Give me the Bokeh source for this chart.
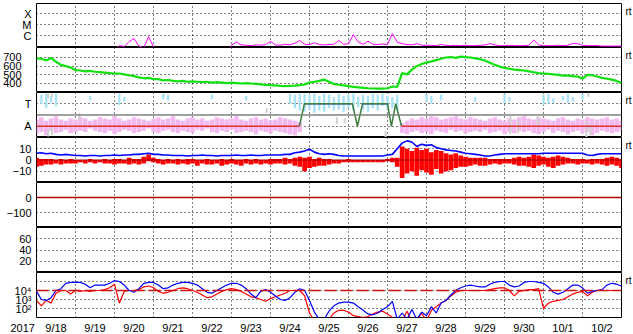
import numpy as np
from bokeh.plotting import figure
from bokeh.layouts import column
from bokeh.models import Range1d, FixedTicker, Span, LinearAxis, LogAxis
from bokeh.embed import file_html
from bokeh.resources import INLINE

FONT = "Liberation Sans"
nan = float("nan")

# ---------------- data ----------------
hours = list(range(0, 361, 3))          # 3-hourly samples from 2017-09-18 00:00
t = [h / 24 for h in hours]             # days

day_labels = ["9/18", "9/19", "9/20", "9/21", "9/22", "9/23", "9/24", "9/25",
              "9/26", "9/27", "9/28", "9/29", "9/30", "10/1", "10/2"]
year_label = "2017"

# X-ray flux (W/m2)
xray = ([5e-8] * 17 +
        [1.2e-7, 1.0e-7, 2.8e-7, 5.3e-7, 1.1e-7, 8e-8, 8e-7, 9e-8] +
        [5e-8] * 15 +
        [1.3e-7, 2.5e-7, 1.4e-7, 1.3e-7, 1.2e-7, 1.4e-7, 1.3e-7, 1.5e-7, 3e-7, 1.4e-7,
         1.3e-7, 1.6e-7, 1.4e-7, 2e-7, 3.5e-7, 1.6e-7, 1.5e-7, 2.2e-7, 1.5e-7, 1.4e-7,
         1.5e-7, 1.6e-7, 3.5e-7, 1.6e-7, 1.8e-7, 1.2e-6, 2.5e-7, 1.6e-7, 3e-7, 1.6e-7,
         1.5e-7, 1.7e-7, 1.5e-7, 1.5e-6, 2.5e-7, 1.8e-7, 1.5e-7, 1.4e-7, 1.8e-7, 1.3e-7,
         1.3e-7, 1.3e-7, 1.2e-7, 1.5e-7, 1.3e-7, 1.2e-7, 1.3e-7, 1.2e-7, 1.3e-7, 1.2e-7,
         1.2e-7, 1.3e-7, 1.4e-7, 1.8e-7, 1.4e-7, 1.2e-7, 1.2e-7, 1.3e-7, 1.2e-7, 1.2e-7,
         1.2e-7, 1.3e-7, 4e-7, 1.4e-7, 1.2e-7, 1.2e-7, 1.2e-7, 1.3e-7, 1.2e-7, 1.3e-7,
         1.9e-7, 1.8e-7, 1.3e-7, 1.2e-7, 1.2e-7, 1.2e-7, 1.1e-7, 1.1e-7, 1.1e-7, 1.1e-7,
         1.1e-7])

# solar wind speed (km/s)
speed = [690, 685, 665, 695, 650, 615, 600, 585, 555, 550,
         540, 545, 535, 530, 525, 520, 515, 515, 505, 495,
         485, 470, 460, 465, 450, 450, 435, 440, 430, 425,
         430, 420, 425, 420, 415, 420, 410, 415, 410, 405,
         410, 405, 400, 405, 400, 395, 390, 385, 380, 378,
         372, 370, 372, 375, 380, 390, 410, 420, 430, 445,
         420, 395, 385, 378, 370, 360, 355, 350, 345, 342,
         340, 340, 345, 365, 360, 520, 505, 560, 600, 625,
         640, 655, 670, 685, 700, 705, 695, 710, 705, 700,
         690, 680, 665, 640, 615, 595, 580, 570, 560, 555,
         550, 540, 530, 520, 515, 510, 505, 500, 490, 490,
         485, 480, 455, 500, 495, 480, 465, 455, 445, 430,
         405]

# panel 3 : A / T classes
pink_hi = [1.6, 1.8, 1.5, 1.7, 1.9, 1.6, 1.5, 1.7, 1.6, 1.8,
           1.7, 1.5, 1.6, 1.8, 1.7, 1.6, 1.9, 1.7, 1.5, 1.6,
           1.8, 1.7, 1.6, 1.5, 1.7, 1.8, 1.6, 1.7, 1.9, 1.6,
           1.5, 1.7, 1.8, 1.6, 1.7, 1.5, 1.6, 1.8, 1.7, 1.6,
           1.7, 1.9, 1.6, 1.5, 1.7, 1.8, 1.6, 1.7, 1.5, 1.6,
           1.8, 1.7, 1.6, 1.5, 1.4] + [nan] * 20 + \
          [1.3, 1.5, 1.7, 1.6, 1.8,
           1.7, 1.9, 1.8, 1.6, 1.7, 1.8, 1.9, 1.7, 1.6, 1.8,
           1.7, 1.6, 1.5, 1.7, 1.8, 1.6, 1.5, 1.7, 1.6, 1.8,
           1.9, 1.7, 1.6, 1.8, 1.7, 1.6, 1.5, 1.7, 1.8, 1.6,
           1.5, 1.7, 1.6, 1.8, 1.7, 1.6, 1.7, 1.8, 1.6, 1.7, 1.5]
pink_lo = [0.3, 0.5, 0.2, 0.6, 0.4, 0.5, 0.7, 0.4, 0.5, 0.6,
           0.5, 0.8, 0.6, 0.5, 0.4, 0.6, 0.3, 0.5, 0.7, 0.6,
           0.4, 0.5, 0.6, 0.8, 0.5, 0.4, 0.6, 0.7, 0.5, 0.4,
           0.6, 0.5, 0.4, 0.7, 0.6, 0.8, 0.5, 0.4, 0.6, 0.5,
           0.7, 0.4, 0.5, 0.6, 0.5, 0.3, 0.6, 0.5, 0.4, 0.6,
           0.5, 0.4, 0.3, 0.2, 0.5] + [nan] * 20 + \
          [0.4, 0.3, 0.5, 0.6, 0.4,
           0.5, 0.3, 0.6, 0.5, 0.4, 0.7, 0.5, 0.6, 0.4, 0.5,
           0.6, 0.5, 0.7, 0.4, 0.5, 0.6, 0.3, 0.5, 0.4, 0.6,
           0.5, 0.6, 0.4, 0.3, 0.5, 0.7, 0.4, 0.6, 0.5, 0.3,
           0.5, 0.6, 0.4, 0.5, 0.2, 0.4, 0.6, 0.5, 0.4, 0.5, 0.6]

cyan_hi = [nan, 3.8, 3.9, 3.7, 3.9, nan, nan, nan, nan, nan,
           nan, 3.7, nan, nan, nan, nan, nan, 3.9, 3.6, nan,
           nan, nan, nan, nan, nan, nan, 3.9, 3.8, nan, nan,
           nan, nan, nan, nan, nan, nan, 3.8, nan, nan, nan,
           nan, nan, nan, 3.7, nan, nan, nan, nan, nan, nan,
           nan, nan, 3.9, 3.8, 3.9, 3.9, 3.8, 3.9, 3.7, 3.9,
           3.8, 3.6, 3.9, 3.7, 3.8, 3.9, 3.6, 3.8, 3.7, 3.9,
           3.8, 3.9, 3.7, 3.6, 3.8, nan, nan, nan, nan, nan,
           3.9, 3.7, nan, 3.8, nan, nan, nan, nan, nan, nan,
           3.6, nan, nan, nan, nan, nan, 3.9, 3.6, nan, nan,
           nan, nan, nan, nan, 3.8, 3.9, 3.5, nan, 3.7, 3.9,
           3.6, nan, 3.9, nan, nan, nan, nan, nan, nan, nan, nan]
cyan_lo = [nan, 3.0, 2.6, 3.1, 2.8, nan, nan, nan, nan, nan,
           nan, 3.3, nan, nan, nan, nan, nan, 2.9, 3.2, nan,
           nan, nan, nan, nan, nan, nan, 3.4, 3.3, nan, nan,
           nan, nan, nan, nan, nan, nan, 3.4, nan, nan, nan,
           nan, nan, nan, 3.3, nan, nan, nan, nan, nan, nan,
           nan, nan, 3.0, 2.6, 2.4, 2.3, 2.5, 2.2, 2.4, 2.3,
           2.6, 2.4, 2.5, 2.3, 2.6, 2.4, 2.7, 2.5, 2.3, 2.6,
           2.4, 2.8, 2.5, 2.6, 2.4, nan, nan, nan, nan, nan,
           3.2, 3.0, nan, 3.3, nan, nan, nan, nan, nan, nan,
           3.2, nan, nan, nan, nan, nan, 3.1, 3.2, nan, nan,
           nan, nan, nan, nan, 2.9, 3.0, 3.1, nan, 3.3, 3.1,
           3.2, nan, 3.4, nan, nan, nan, nan, nan, nan, nan, nan]

gray_t = [0.3, 0.4, 0.3, 0.4, 1.1, 5.9, 7.7, 7.9, 8.95, 12.15, 12.35, 12.85, 14.1, 14.2, 14.15]
gray_lo = [3.5, 3.6, 0.1, 0.2, 1.5, 2.2, 1.2, 1.3, 0.0, 0.3, 0.4, 1.1, 0.0, 0.2, 3.6]
gray_hi = [4.0, 3.9, 0.8, 0.9, 2.2, 2.6, 1.8, 1.7, 0.6, 1.9, 1.6, 1.9, 1.5, 1.2, 4.0]

state_t = [6.74, 6.87, 8.10, 8.23, 8.36, 9.00, 9.10, 9.21, 9.36]
state_v = [1, 3, 3, 1, 3, 3, 1, 3, 1]
a_start = [0.0, 9.36]
a_end = [6.74, 15.0]
t_start = [6.87, 8.36]
t_end = [8.10, 9.00]

# magnetic field (nT)
bt = [6, 6.5, 5.5, 6, 5, 4.5, 5, 4.5, 4, 4,
      3.5, 4, 4, 3.5, 4, 4, 4.5, 4, 4.5, 4.5,
      5, 5, 5.5, 6, 5, 5, 4.5, 4.5, 4, 4,
      4, 3.5, 4, 4, 4.5, 4, 4, 3.5, 4, 4,
      4, 4.5, 4, 4, 4.5, 4, 4, 4.5, 4.5, 4.5,
      4.5, 5, 5, 6.5, 7, 8, 9.5, 7, 5.5, 5,
      5.5, 5, 4, 3.5, 3.5, 3.5, 3.5, 3.5, 3.5, 3.5,
      3.5, 3.5, 4.5, 5, 10, 15, 17, 16, 12, 14,
      13, 13.5, 11, 10, 9, 8.5, 8, 7, 6, 5.5,
      5, 4.5, 3.5, 3.5, 4.5, 5, 5.5, 5.5, 5.5, 5.5,
      5.5, 5.5, 5.5, 5.5, 6, 6, 6, 6, 6, 6,
      6, 6, 6, 4.5, 4, 5, 5.5, 5.5, 5.5, 5.5, 5.5]
bz_hi = [2, 1, 1, 1, 0, 1, 0, 1, 0, 0,
         0, 1, 0, 0, 1, 0, 1, 1, 0, 2,
         1, 1, 3, 5, 2, 1, 0, 1, 0, 1,
         0, 1, 1, 0, 0, 1, 0, 0, 1, 0,
         1, 0, 0, 1, 0, 1, 0, 0, 1, 1,
         1, 2, 1, 2, 3, 2, 3, 1, 2, 1,
         1, 0, 0, 0, 1, 0, 0, 0, 0, 0,
         0, 0, 1, 2, 2, 12, 10, 8, 11, 9,
         10, 7, 9, 8, 6, 5, 6, 4, 3, 2,
         2, 2, 2, 1, 1, 1, 1, 1, 2, 3,
         2, 3, 5, 4, 3, 2, 3, 4, 3, 2,
         1, 1, 1, 0, 1, 1, 1, 2, 3, 2, 1]
bz_lo = [-6, -5, -4, -4, -3, -4, -3, -3, -3, -2,
         -3, -2, -3, -2, -3, -3, -4, -3, -3, -4,
         -3, -4, -3, -1, -2, -3, -4, -3, -3, -4,
         -3, -4, -3, -5, -3, -4, -4, -3, -5, -4,
         -3, -4, -5, -3, -4, -3, -4, -3, -4, -3,
         -3, -4, -3, -5, -6, -10, -7, -6, -5, -5,
         -4, -3, -3, -2, -2, -2, -2, -2, -2, -2,
         -2, -2, -1, -2, -6, -16, -12, -10, -14, -9,
         -11, -13, -8, -12, -10, -9, -7, -6, -6, -5,
         -4, -5, -5, -4, -3, -4, -3, -3, -4, -5,
         -5, -6, -7, -5, -4, -6, -7, -5, -4, -3,
         -3, -4, -3, -3, -4, -3, -4, -5, -4, -5, -7]

# electrons (log10 flux), two satellites
e_blue_log = [3.9, 3.0, 2.9, 3.2, 4.0, 4.2, 4.8, 4.9, 4.9, 4.9,
              4.7, 4.3, 4.6, 4.6, 4.6, 4.8, 5.1, 5.0, 4.6, 4.0,
              3.8, 4.2, 4.8, 4.9, 4.9, 4.6, 4.2, 4.3, 4.6, 4.8,
              4.9, 4.9, 4.8, 4.6, 4.2, 3.8, 3.7, 4.0, 4.3, 4.6,
              4.8, 4.8, 4.6, 4.2, 3.6, 3.2, 3.9, 4.1, 3.8, 3.4,
              3.0, 2.9, 3.2, 3.8, 4.2, 4.0, 2.9, 1.6, 0.8, 0.8,
              1.7, 2.3, 2.6, 2.7, 2.7, 2.6, 2.2, 1.8, 1.4, 1.3,
              1.5, 1.9, 2.2, 2.8, 0.8, 1.5, 0.8, 1.9, 0.8, 1.6,
              1.2, 2.2, 1.5, 2.6, 2.9, 3.5, 4.0, 4.3, 4.5, 4.6,
              4.5, 4.4, 4.4, 4.7, 4.9, 5.0, 5.0, 4.6, 4.4, 4.5,
              4.9, 5.0, 5.0, 4.9, 4.8, 4.4, 3.8, 3.6, 3.8, 4.2,
              4.6, 4.6, 4.3, 3.7, 3.9, 4.0, 4.1, 4.6, 4.8, 4.7, 4.5]
e_red_log = [2.9, 2.3, 2.9, 2.6, 3.7, 4.0, 4.0, 3.6, 4.0, 3.9,
             4.0, 3.9, 4.0, 4.0, 4.1, 4.3, 4.7, 2.6, 3.9, 4.0,
             4.0, 4.1, 4.4, 4.5, 4.3, 3.9, 3.7, 3.8, 4.0, 4.2,
             4.3, 4.2, 4.0, 3.8, 3.5, 3.2, 3.3, 3.6, 3.9, 4.1,
             4.2, 4.1, 3.9, 3.6, 3.3, 3.2, 3.0, 2.8, 3.1, 3.3,
             3.5, 3.7, 4.0, 4.0, 4.0, 3.4, 1.5, 0.6, 0.6, 0.6,
             0.8, 1.5, 1.8, 1.8, 1.6, 1.2, 1.1, 1.0, 1.1, 1.4,
             1.6, 1.7, 1.4, 1.0, 0.6, 0.6, 1.7, 0.6, 0.6, 1.5,
             0.6, 1.8, 2.2, 2.6, 2.9, 3.4, 3.8, 4.0, 4.0, 4.0,
             4.0, 4.0, 4.0, 4.1, 4.2, 4.3, 4.3, 4.0, 3.4, 3.9,
             4.0, 4.1, 4.1, 4.2, 2.0, 2.6, 2.8, 2.9, 3.0, 3.3,
             3.6, 3.8, 3.9, 3.4, 3.8, 4.0, 4.0, 4.0, 4.0, 4.0, 4.0]
e_blue = [10 ** v for v in e_blue_log]
e_red = [10 ** v for v in e_red_log]

for arr in (xray, speed, pink_hi, pink_lo, cyan_hi, cyan_lo, bt, bz_hi, bz_lo, e_blue_log, e_red_log):
    assert len(arr) == len(t), len(arr)

# ---------------- figures ----------------
xr = Range1d(0, 15)
FRAME_W = 585


def make_panel(frame_h, y_range, ticks, labels=None, y_type="linear", top=0, bottom=0,
               show_x=False, standoff=5):
    p = figure(frame_width=FRAME_W, frame_height=frame_h, x_range=xr, y_range=y_range,
               y_axis_type=y_type, output_backend="svg", toolbar_location=None,
               x_axis_location="below" if show_x else None,
               min_border_left=32, min_border_right=16,
               min_border_top=top, min_border_bottom=bottom)
    p.outline_line_color = "black"
    p.outline_line_width = 1
    p.outline_line_alpha = 1
    p.background_fill_color = "white"
    p.border_fill_color = "white"
    yax = p.yaxis[0]
    yax.ticker = FixedTicker(ticks=ticks)
    if labels is not None:
        yax.major_label_overrides = labels
    yax.major_tick_in = 0
    yax.major_tick_out = 0
    yax.minor_tick_line_color = None
    yax.major_tick_line_color = None
    yax.axis_line_color = None
    yax.major_label_standoff = standoff
    yax.major_label_text_font = FONT
    yax.major_label_text_font_size = "11px"
    yax.major_label_text_color = "black"
    p.ygrid.ticker = FixedTicker(ticks=ticks)
    p.ygrid.grid_line_color = "black"
    p.ygrid.grid_line_dash = "1 3"
    p.ygrid.grid_line_alpha = 1
    p.xgrid.ticker = FixedTicker(ticks=list(range(1, 15)))
    p.xgrid.grid_line_color = "black"
    p.xgrid.grid_line_dash = "1 3"
    p.xgrid.grid_line_alpha = 1
    if show_x:
        xax = p.xaxis[0]
        xax.ticker = FixedTicker(ticks=[0] + [i + 0.5 for i in range(15)])
        ov = {i + 0.5: day_labels[i] for i in range(15)}
        ov[0] = year_label + "\u00a0" * 9
        xax.major_label_overrides = ov
        xax.major_tick_in = 0
        xax.major_tick_out = 0
        xax.minor_tick_line_color = None
        xax.major_tick_line_color = None
        xax.axis_line_color = None
        xax.major_label_standoff = 4
        xax.major_label_text_font = FONT
        xax.major_label_text_font_size = "11px"
        xax.major_label_text_color = "black"
    return p


def rt(p, val, log=False):
    cls = LogAxis if log else LinearAxis
    ax = cls(ticker=FixedTicker(ticks=[val]), major_label_overrides={val: "rt"})
    ax.major_tick_in = 0
    ax.major_tick_out = 0
    ax.major_tick_line_color = None
    ax.minor_tick_line_color = None
    ax.axis_line_color = None
    ax.major_label_standoff = 4
    ax.major_label_text_font = FONT
    ax.major_label_text_font_size = "10px"
    ax.major_label_text_color = "black"
    p.add_layout(ax, "right")


# 1: X-ray
p1 = make_panel(44, Range1d(10 ** -7.09, 10 ** -3.09), [1e-6, 1e-5, 1e-4],
                {1e-6: "C", 1e-5: "M", 1e-4: "X"}, y_type="log", top=3)
p1.line(t, xray, line_color="#ff00ff", line_width=1)
rt(p1, 10 ** -3.82, log=True)

# 2: speed
p2 = make_panel(45, Range1d(296, 815), [400, 500, 600, 700], standoff=15)
p2.line(t, speed, line_color="#11e011", line_width=2.2)
rt(p2, 723)

# 3: A / T
p3 = make_panel(45, Range1d(0, 4), [1, 3], {1: "A", 3: "T"})
p3.vbar(x=t, bottom=pink_lo, top=pink_hi, width=0.115, fill_color="#f4b8f0", line_color=None)
p3.vbar(x=t, bottom=cyan_lo, top=cyan_hi, width=0.06, fill_color="#a8e2f6", line_color=None)
p3.segment(x0=gray_t, y0=gray_lo, x1=gray_t, y1=gray_hi, line_color="#cfcfcf", line_width=2)
p3.add_layout(Span(location=2, dimension="width", line_color="#808080", line_width=1.5))
p3.segment(x0=a_start, y0=[1, 1], x1=a_end, y1=[1, 1], line_color="#e03030", line_width=1.3)
p3.segment(x0=t_start, y0=[3, 3], x1=t_end, y1=[3, 3], line_color="#3a55dd", line_width=1.5)
p3.line(state_t, state_v, line_color="#3f7f3f", line_width=1.5)
rt(p3, 3.29)

# 4: magnetic field
p4 = make_panel(45, Range1d(-20, 20), [-10, 0, 10])
p4.vbar(x=t, bottom=bz_lo, top=bz_hi, width=0.12, fill_color="#ff0000", line_color=None)
p4.line(t, bt, line_color="#0000ff", line_width=1.6)
p4.add_layout(Span(location=0, dimension="width", line_color="#a00000", line_width=1))
rt(p4, 12.9)

# 5: index
p5 = make_panel(45, Range1d(-200, 100), [-100, 0])
p5.add_layout(Span(location=0, dimension="width", line_color="#b00000", line_width=1.3))

# 6: index
p6 = make_panel(45, Range1d(0, 80), [20, 40, 60])

# 7: electrons
p7 = make_panel(45, Range1d(10, 1e6), [1e2, 1e3, 1e4, 1e5],
                {1e2: "10²", 1e3: "10³", 1e4: "10⁴", 1e5: ""}, y_type="log",
                bottom=17, show_x=True)
p7.add_layout(Span(location=1e4, dimension="width", line_color="#d01010",
                   line_width=1.3, line_dash="12 4"))
p7.line(t, e_red, line_color="#ff0000", line_width=1.2)
p7.line(t, e_blue, line_color="#0000ff", line_width=1.2)
rt(p7, 10 ** 5.11, log=True)

layout = column(p1, p2, p3, p4, p5, p6, p7, spacing=0)
open("out.html", "w").write(file_html(layout, INLINE))
